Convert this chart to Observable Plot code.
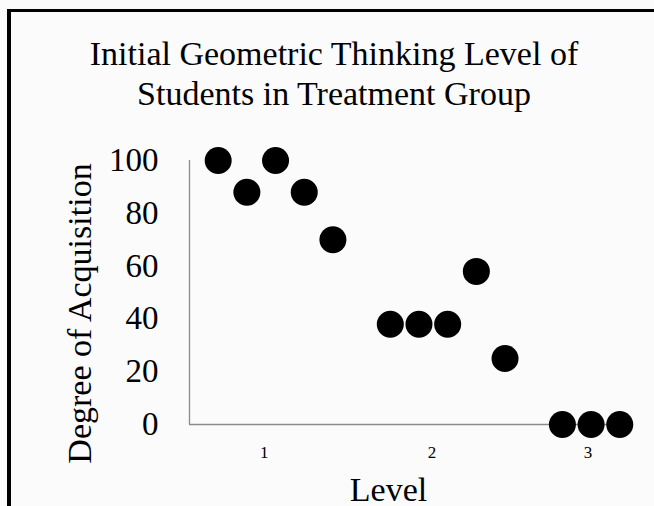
<!DOCTYPE html>
<html>
<head>
<meta charset="utf-8">
<script src="https://cdn.jsdelivr.net/npm/d3@7"></script>
<script src="https://cdn.jsdelivr.net/npm/@observablehq/plot@0.6"></script>
<style>
  html, body { margin: 0; padding: 0; background: #fbfbfb; }
  body { width: 654px; height: 506px; position: relative; overflow: hidden; font-family: "Liberation Serif", "Times New Roman", serif; }
  #frame { position: absolute; left: 7px; top: 9px; width: 660px; height: 520px; border-left: 4px solid #000; border-top: 3px solid #000; box-sizing: border-box; }
  #title { position: absolute; left: 14px; top: 34px; width: 640px; text-align: center; font-size: 34px; line-height: 40px; color: #000; }
  #chart { position: absolute; left: 0; top: 114px; }
</style>
</head>
<body>
<div id="frame"></div>
<div id="title">Initial Geometric Thinking Level of<br>Students in Treatment Group</div>
<div id="chart"></div>
<script>
// Data
const position = [1, 2, 3, 4, 5, 7, 8, 9, 10, 11, 13, 14, 15];
const level    = [1, 1, 1, 1, 1, 2, 2, 2, 2, 2, 3, 3, 3];
const degree   = [100, 88, 100, 88, 70, 38, 38, 38, 58, 25, 0, 0, 0];
const levelLabels = ["1", "2", "3"];
const levelTickPos = [2.61, 8.45, 13.89];
const yTicks = [0, 20, 40, 60, 80, 100];
const yTitle = "Degree of Acquisition";
const xTitle = "Level";

const data = position.map((p, i) => ({position: p, level: level[i], degree: degree[i]}));

const font = "Liberation Serif, Times New Roman, serif";

const chart = Plot.plot({
  width: 654,
  height: 392,
  marginLeft: 189,
  marginRight: 29,
  marginTop: 46,
  marginBottom: 82,
  style: {fontFamily: font, background: "transparent", color: "#000", overflow: "visible"},
  x: {domain: [0, 15.2]},
  y: {domain: [0, 100]},
  marks: [
    Plot.ruleX([0], {stroke: "#8a8a8a", strokeWidth: 1.3}),
    Plot.ruleY([0], {stroke: "#8a8a8a", strokeWidth: 1.3}),
    Plot.axisY({ticks: yTicks, tickSize: 0, tickPadding: 31, fontSize: 33, label: null}),
    Plot.axisX({ticks: levelTickPos, tickSize: 0, tickPadding: 21, fontSize: 17, label: null,
                tickFormat: (d, i) => levelLabels[i]}),
    Plot.dot(data, {x: "position", y: "degree", r: 13.5, fill: "#000", stroke: "none"}),
    Plot.text([yTitle], {frameAnchor: "left", textAnchor: "middle", rotate: -90, dx: -109, dy: 21, fontSize: 34, fill: "#000"}),
    Plot.text([xTitle], {frameAnchor: "bottom", textAnchor: "middle", lineAnchor: "bottom", dx: -19, dy: 76, fontSize: 34, fill: "#000"})
  ]
});
document.getElementById("chart").appendChild(chart);
</script>
</body>
</html>
